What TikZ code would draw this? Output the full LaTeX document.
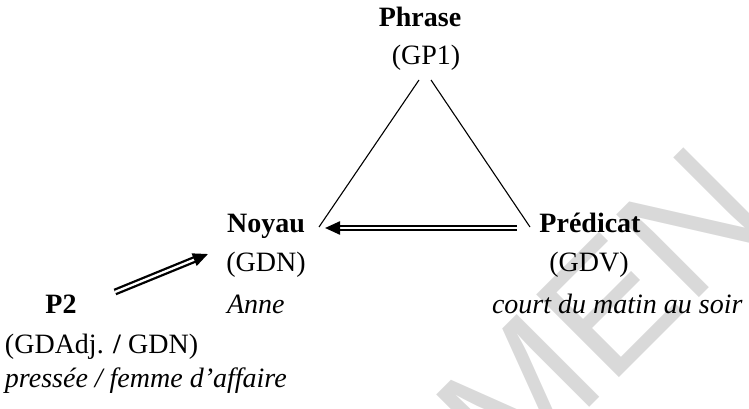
\documentclass[tikz,border=0pt]{standalone}
\usepackage{fontspec}
\setmainfont{Liberation Serif}
\newfontfamily\wmfont{Liberation Sans}
\usetikzlibrary{arrows.meta}
\definecolor{wmgray}{RGB}{217,217,217}
\tikzset{
  lbl/.style={inner sep=0pt, outer sep=0pt, font=\fontsize{28}{32}\selectfont},
  bold/.style={lbl, font=\fontsize{28}{32}\selectfont\bfseries},
  ital/.style={lbl, font=\fontsize{28}{32}\selectfont\itshape},
  tri/.style={line width=1.1pt},
  dbl/.style={double, line width=2.3pt, double distance=2.3pt,
    -{Triangle[length=15pt,width=13pt]}, shorten >=0pt},
}
\begin{document}
\begin{tikzpicture}[x=1pt,y=-1pt]
\useasboundingbox (0,0) rectangle (749,409);
\begin{scope}
\clip (0,0) rectangle (749,409);
\node[inner sep=0pt, anchor=base west, rotate=45, text=wmgray,
  font=\fontsize{170}{170}\wmfont] (wm) at (509,488) {MEN};
\end{scope}
% labels
\node[bold, anchor=base] (phrase) at (420,27) {Phrase};
\node[lbl, anchor=base] (gp1) at (426,65) {(GP1)};
\node[bold, anchor=base] (noyau) at (266,232) {Noyau};
\node[lbl, anchor=base] (gdn) at (266,271) {(GDN)};
\node[ital, anchor=base west] (anne) at (227,313) {Anne};
\node[bold, anchor=base] (pred) at (590,232) {Prédicat};
\node[lbl, anchor=base] (gdv) at (589,271) {(GDV)};
\node[ital, anchor=base west] (court) at (492,313) {court du matin au soir};
\node[bold, anchor=base] (p2) at (61,313) {P2};
\node[lbl, anchor=base west] (gdadj) at (5,353) {(GDAdj. \textbf{/} GDN)};
\node[ital, anchor=base west] (press) at (5,387) {pressée / femme d’affaire};
% connector end points
\coordinate (apexL) at (419,80);
\coordinate (apexR) at (431,80);
\coordinate (noyR) at (319,227);
\coordinate (predL) at (530,227);
\coordinate (arrTail) at (517,228);
\coordinate (arrTip) at (325,228);
\coordinate (p2Tail) at (115,292);
\coordinate (p2Tip) at (208,254);
% triangle
\draw[tri] (apexL) -- (noyR);
\draw[tri] (apexR) -- (predL);
% arrows
\draw[dbl] (arrTail) -- (arrTip);
\draw[dbl] (p2Tail) -- (p2Tip);
\end{tikzpicture}
\end{document}
